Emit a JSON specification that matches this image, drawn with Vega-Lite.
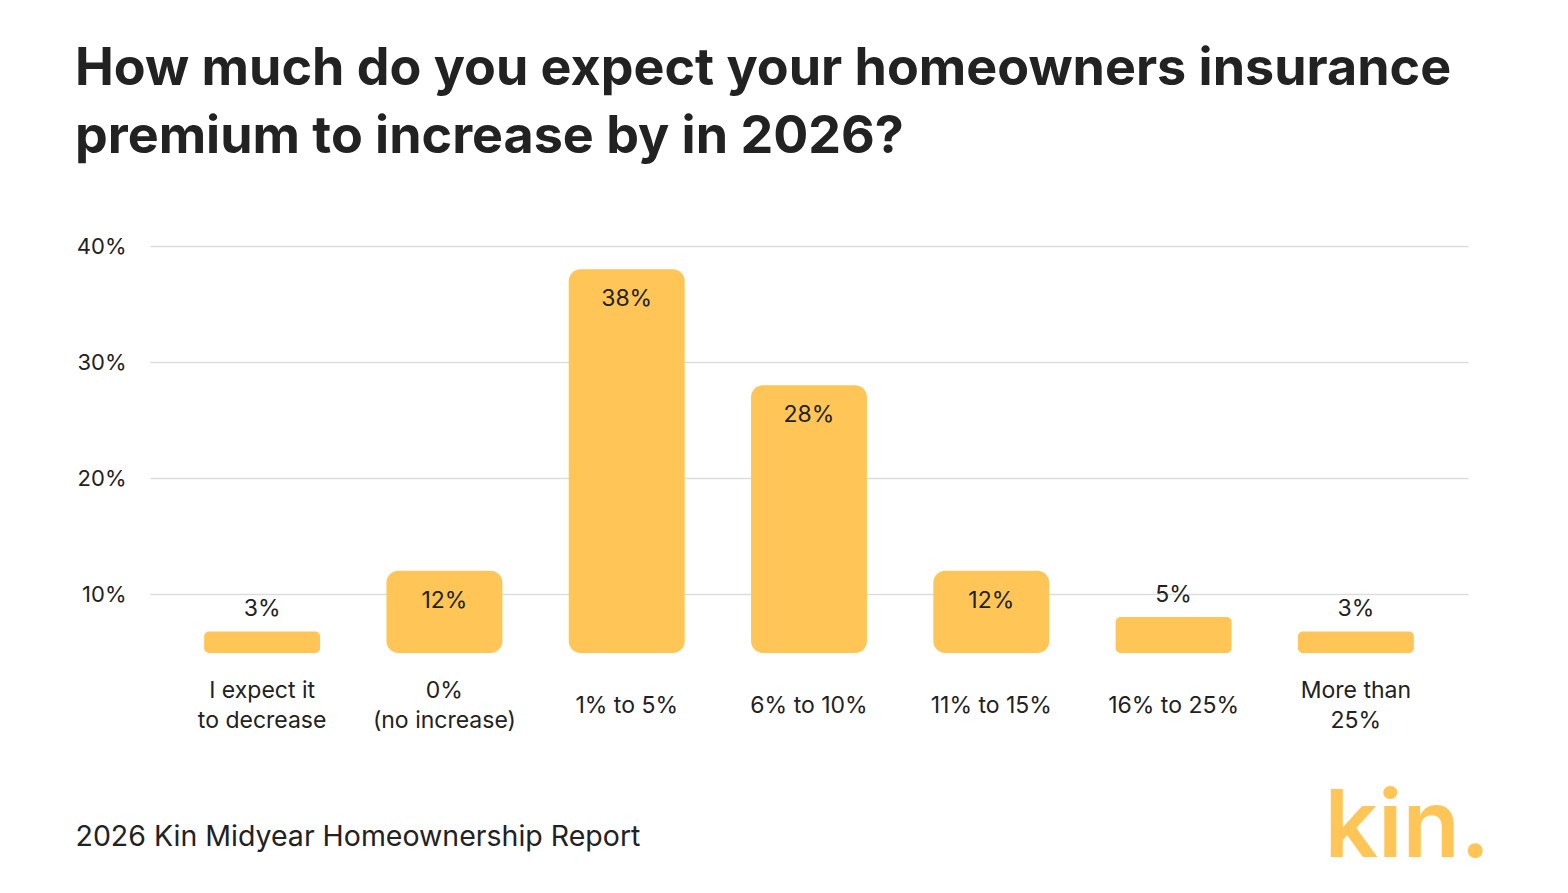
{
  "$schema": "https://vega.github.io/schema/vega-lite/v6.json",
  "autosize": "none",
  "width": 1318,
  "height": 407,
  "padding": {"left": 150, "top": 246, "right": 100, "bottom": 240},
  "background": "#ffffff",
  "config": {
    "font": "Inter",
    "view": {"stroke": null},
    "text": {"font": "Inter", "fontSize": 23, "color": "#222222"}
  },
  "title": {
    "text": ["How much do you expect your homeowners insurance", "premium to increase by in 2026?"],
    "anchor": "start",
    "frame": "group",
    "dx": -75,
    "offset": 30,
    "baseline": "alphabetic",
    "font": "Inter",
    "fontSize": 52,
    "fontWeight": 700,
    "lineHeight": 68,
    "color": "#222222"
  },
  "data": {
    "values": [
      {"answer": "I expect it|to decrease", "share": 3},
      {"answer": "0%|(no increase)", "share": 12},
      {"answer": "1% to 5%", "share": 38},
      {"answer": "6% to 10%", "share": 28},
      {"answer": "11% to 15%", "share": 12},
      {"answer": "16% to 25%", "share": 5},
      {"answer": "More than|25%", "share": 3}
    ]
  },
  "encoding": {
    "x": {
      "field": "answer",
      "type": "nominal",
      "sort": ["I expect it|to decrease", "0%|(no increase)", "1% to 5%", "6% to 10%", "11% to 15%", "16% to 25%", "More than|25%"],
      "scale": {"paddingInner": 0.364, "paddingOuter": 0.297},
      "axis": {
        "title": "2026 Kin Midyear Homeownership Report",
        "titleX": -75,
        "titleY": 192,
        "titleAlign": "left",
        "titleAnchor": "start",
        "titleBaseline": "alphabetic",
        "titleFont": "Inter",
        "titleFontSize": 28.5,
        "titleFontWeight": 400,
        "titleColor": "#222222",
        "labelExpr": "split(datum.label, '|')",
        "labelAngle": 0,
        "labelFont": "Inter",
        "labelFontSize": 23,
        "labelColor": "#222222",
        "labelBaseline": "middle",
        "labelLineHeight": 30,
        "labelPadding": {"condition": {"test": "indexof(datum.value, '|') >= 0", "value": 37}, "value": 52},
        "ticks": false,
        "domain": false,
        "grid": false
      }
    },
    "y": {
      "field": "share",
      "type": "quantitative",
      "scale": {"domain": [0, 5, 10, 40], "range": [407, 371, 348, 0], "nice": false, "zero": false},
      "axis": {
        "values": [10, 20, 30, 40],
        "labelExpr": "datum.value + '%'",
        "labelFont": "Inter",
        "labelFontSize": 22,
        "labelColor": "#222222",
        "labelPadding": 24,
        "ticks": false,
        "domain": false,
        "grid": true,
        "gridColor": "#dddddd",
        "gridWidth": 1.5,
        "title": "kin.",
        "titleAngle": 0,
        "titleX": 1174,
        "titleY": 610,
        "titleAlign": "left",
        "titleBaseline": "alphabetic",
        "titleFont": "Inter",
        "titleFontSize": 94,
        "titleFontWeight": 600,
        "titleColor": "#FFC657"
      }
    }
  },
  "layer": [
    {
      "transform": [{"filter": "datum.share >= 10"}],
      "mark": {"type": "bar", "color": "#FFC657", "cornerRadius": 12},
      "encoding": {"y2": {"datum": 0}}
    },
    {
      "transform": [{"filter": "datum.share < 10"}],
      "mark": {"type": "bar", "color": "#FFC657", "cornerRadius": 5},
      "encoding": {"y2": {"datum": 0}}
    },
    {
      "transform": [{"filter": "datum.share >= 10"}],
      "mark": {"type": "text", "baseline": "middle", "dy": 30, "text": {"expr": "datum.share + '%'"}},
      "encoding": {}
    },
    {
      "transform": [{"filter": "datum.share < 10"}],
      "mark": {"type": "text", "baseline": "middle", "dy": -22, "text": {"expr": "datum.share + '%'"}},
      "encoding": {}
    }
  ]
}
